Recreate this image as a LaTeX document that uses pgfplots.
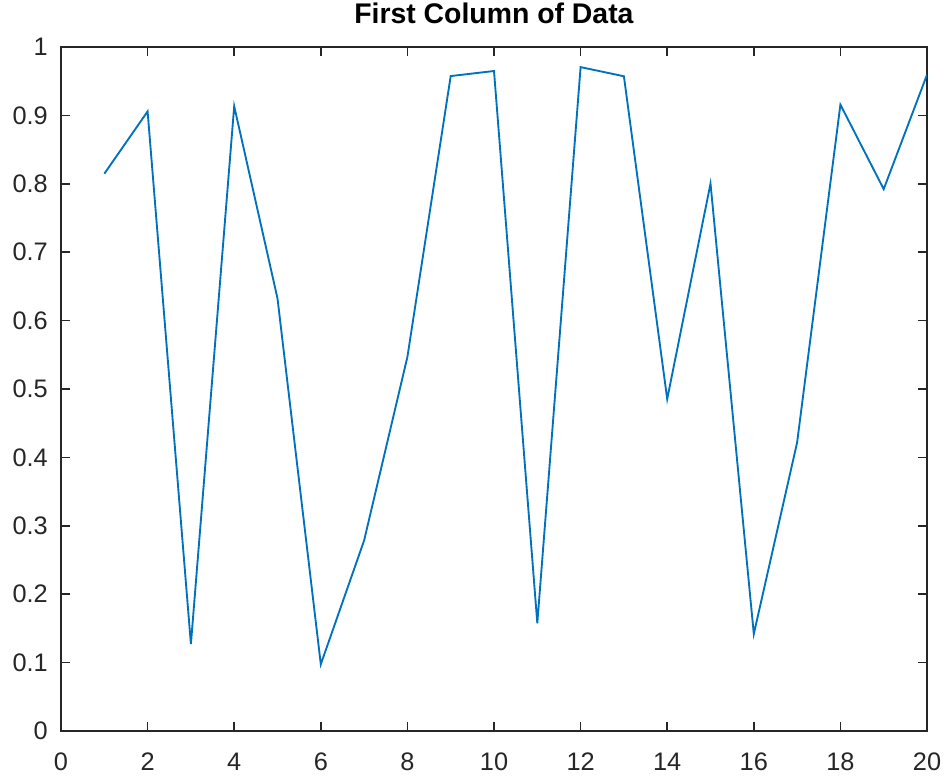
\documentclass[border=0pt]{standalone}
\usepackage{pgfplots}
\pgfplotsset{compat=1.18}
\usepackage{fontspec}
\setmainfont{Liberation Sans}
\definecolor{mblue}{rgb}{0,0.447,0.741}
\definecolor{axgray}{rgb}{0.15,0.15,0.15}
\begin{document}
\begin{tikzpicture}
\begin{axis}[
  name=ax,
  scale only axis,
  width=649.5pt, height=513pt,
  xmin=0, xmax=20, ymin=0, ymax=1,
  xtick={0,2,...,20},
  ytick={0,0.1,...,1},
  yticklabels={0,0.1,0.2,0.3,0.4,0.5,0.6,0.7,0.8,0.9,1},
  tick align=inside,
  major tick length=6.75pt,
  axis line style={axgray, line width=1.1pt},
  tick style={axgray, line width=1.1pt},
  ticklabel style={font=\fontsize{19}{22}\selectfont, text=axgray},
  xticklabel style={anchor=base, inner sep=0pt, yshift=-29.25pt},
  yticklabel style={anchor=east, inner sep=0pt, xshift=-9.75pt},
  /pgf/number format/assume math mode=true,
  title={\textbf{First Column of Data}},
  title style={font=\fontsize{21.3}{24}\selectfont, text=black, anchor=base, at={(0.5,1)}, yshift=11.25pt, inner sep=0pt},
  xtick pos=both, ytick pos=both,
]
\addplot[mblue, line width=1.4pt] coordinates {
(1,0.8147) (2,0.9058) (3,0.1270) (4,0.9134) (5,0.6324)
(6,0.0975) (7,0.2785) (8,0.5469) (9,0.9575) (10,0.9649)
(11,0.1576) (12,0.9706) (13,0.9572) (14,0.4854) (15,0.8003)
(16,0.1419) (17,0.4218) (18,0.9157) (19,0.7922) (20,0.9595)
};
\end{axis}
\pgfresetboundingbox
\path (ax.south west) ++(-45.75pt,-33pt) coordinate (bl);
\path (ax.north east) ++(13.5pt,35.25pt) coordinate (tr);
\useasboundingbox (bl) rectangle (tr);
\end{tikzpicture}
\end{document}
